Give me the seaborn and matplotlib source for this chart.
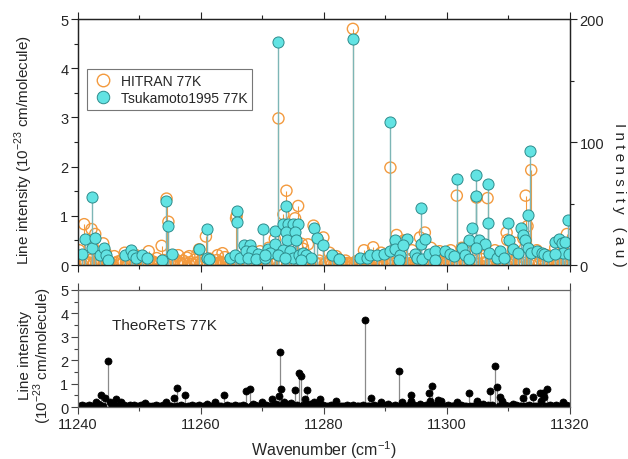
import matplotlib
matplotlib.use("Agg")
import matplotlib.pyplot as plt
from matplotlib.lines import Line2D
from matplotlib.ticker import MultipleLocator
import pandas as pd
import seaborn as sns

sns.set_theme(style="white")
plt.rcParams["font.family"] = ["Liberation Sans", "DejaVu Sans"]
plt.rcParams["mathtext.fontset"] = "custom"
plt.rcParams["mathtext.rm"] = "Liberation Sans"

# ---------------- data ----------------
# HITRAN 77K (10^-23 cm/molecule)
hitran_wn = [
    11240.2, 11241.0, 11242.2, 11242.8, 11244.1, 11253.6, 11254.4, 11254.7, 11259.7, 11259.4,
    11260.8, 11265.8, 11265.7, 11272.6, 11273.9, 11275.8, 11275.3, 11273.4, 11278.3, 11279.9,
    11272.0, 11276.4, 11276.6, 11284.7, 11290.8, 11301.6, 11296.4, 11291.8, 11295.6, 11288.0,
    11293.0, 11304.8, 11306.6, 11312.8, 11313.7, 11313.1, 11309.7, 11309.8, 11319.5, 11303.7,
    11302.4, 11312.4, 11311.1,
    11244.5, 11247.6, 11249.4, 11251.5, 11256.3, 11258.1, 11262.7, 11263.5, 11267.5, 11269.6,
    11271.0, 11277.4, 11280.9, 11282.0, 11286.5, 11289.3, 11294.3, 11297.4, 11298.8, 11300.6,
    11305.6, 11307.8, 11310.9, 11314.6, 11316.2, 11317.6, 11318.9,
    11240.3, 11240.9, 11241.6, 11242.0, 11242.6, 11243.3, 11243.8, 11244.6, 11245.2, 11245.9,
    11246.5, 11247.1, 11247.8, 11248.4, 11249.0, 11249.7, 11250.3, 11250.9, 11251.6, 11252.2,
    11252.8, 11253.3, 11254.0, 11255.0, 11255.8, 11256.5, 11257.1, 11257.7, 11258.3, 11259.0,
    11259.4, 11260.2, 11261.4, 11262.0, 11262.6, 11263.2, 11263.9, 11264.4, 11265.1, 11266.4,
    11266.9, 11267.5, 11268.4, 11269.0, 11269.6, 11270.5, 11271.3, 11271.8, 11273.0, 11274.6,
    11276.9, 11277.5, 11279.2, 11280.4, 11281.0, 11281.7, 11282.3, 11282.9, 11283.5, 11284.1,
    11285.3, 11285.9, 11286.5, 11287.1, 11287.8, 11288.4, 11289.0, 11289.5, 11290.2, 11291.2,
    11292.4, 11293.1, 11294.0, 11294.6, 11295.2, 11296.9, 11297.6, 11298.4, 11299.0, 11300.1,
    11300.9, 11302.8, 11303.2, 11304.4, 11305.7, 11306.0, 11307.3, 11307.9, 11308.3, 11309.2,
    11310.5, 11311.2, 11311.7, 11314.0, 11315.2, 11315.8, 11316.4, 11317.0, 11318.5, 11319.1,
    11319.8,
]
hitran_int = [
    0.30, 0.83, 0.73, 0.63, 0.44, 0.39, 1.35, 0.88, 0.32, 0.22,
    0.58, 1.00, 0.95, 2.98, 1.51, 1.20, 0.95, 1.03, 0.80, 0.56,
    0.53, 0.43, 0.33, 4.80, 1.98, 1.41, 0.66, 0.61, 0.56, 0.36,
    0.50, 1.37, 1.36, 1.41, 1.93, 0.79, 0.66, 0.51, 0.63, 0.47,
    0.35, 0.54, 0.45,
    0.25, 0.25, 0.20, 0.28, 0.20, 0.18, 0.20, 0.24, 0.30, 0.28,
    0.35, 0.42, 0.25, 0.18, 0.30, 0.25, 0.30, 0.35, 0.28, 0.30,
    0.40, 0.30, 0.22, 0.30, 0.20, 0.35, 0.28,
    0.06, 0.12, 0.04, 0.10, 0.05, 0.15, 0.08, 0.12, 0.05, 0.18,
    0.07, 0.10, 0.04, 0.13, 0.06, 0.09, 0.15, 0.05, 0.11, 0.07,
    0.14, 0.05, 0.10, 0.06, 0.12, 0.04, 0.09, 0.15, 0.06, 0.11,
    0.05, 0.08, 0.13, 0.05, 0.10, 0.06, 0.16, 0.04, 0.09, 0.12,
    0.05, 0.08, 0.14, 0.06, 0.10, 0.05, 0.12, 0.07, 0.10, 0.15,
    0.12, 0.06, 0.09, 0.05, 0.10, 0.04, 0.12, 0.06, 0.09, 0.03,
    0.08, 0.04, 0.11, 0.05, 0.07, 0.13, 0.05, 0.09, 0.06, 0.10,
    0.08, 0.05, 0.12, 0.06, 0.10, 0.08, 0.05, 0.12, 0.06, 0.09,
    0.05, 0.11, 0.06, 0.09, 0.12, 0.05, 0.09, 0.14, 0.06, 0.10,
    0.07, 0.12, 0.05, 0.09, 0.13, 0.05, 0.10, 0.06, 0.08, 0.05,
    0.10,
]
# HITRAN weak lines forming the dense band at the baseline
hitran_weak_wn = [
    11240.6, 11241.2, 11241.9, 11242.5, 11243.0, 11243.6, 11244.3, 11244.9, 11245.5, 11246.2,
    11246.8, 11247.4, 11248.1, 11248.7, 11249.3, 11250.0, 11250.6, 11251.2, 11251.9, 11252.5,
    11253.0, 11253.9, 11254.6, 11255.3, 11256.1, 11256.8, 11257.4, 11258.0, 11258.6, 11259.2,
    11259.9, 11260.5, 11261.1, 11261.7, 11262.3, 11262.9, 11263.5, 11264.1, 11264.7, 11265.4,
    11266.0, 11266.6, 11267.2, 11267.8, 11268.7, 11269.3, 11269.9, 11270.8, 11271.5, 11272.3,
    11273.2, 11274.3, 11275.1, 11276.1, 11277.2, 11277.8, 11278.6, 11279.5, 11280.1, 11280.7,
    11281.3, 11282.0, 11282.6, 11283.2, 11283.8, 11284.4, 11285.0, 11285.6, 11286.2, 11286.8,
    11287.4, 11288.1, 11288.7, 11289.3, 11289.9, 11290.5, 11291.0, 11291.6, 11292.1, 11292.8,
    11293.4, 11294.3, 11294.9, 11295.5, 11296.1, 11296.6, 11297.3, 11297.9, 11298.7, 11299.3,
    11299.7, 11300.4, 11301.2, 11301.9, 11302.5, 11303.0, 11303.9, 11304.6, 11305.2, 11306.3,
    11306.9, 11307.6, 11308.6, 11309.0, 11309.5, 11310.2, 11310.8, 11311.4, 11312.0, 11312.6,
    11313.3, 11313.9, 11314.3, 11314.9, 11315.5, 11316.1, 11316.7, 11317.3, 11317.9, 11318.2,
    11318.8, 11319.4,
]
hitran_weak_int = [
    0.03, 0.02, 0.05, 0.02, 0.04, 0.02, 0.05, 0.03, 0.02, 0.04,
    0.02, 0.05, 0.03, 0.02, 0.04, 0.02, 0.05, 0.03, 0.02, 0.04,
    0.02, 0.05, 0.03, 0.02, 0.04, 0.02, 0.05, 0.03, 0.02, 0.04,
    0.02, 0.05, 0.03, 0.02, 0.04, 0.02, 0.05, 0.03, 0.02, 0.04,
    0.02, 0.05, 0.03, 0.02, 0.04, 0.02, 0.05, 0.03, 0.02, 0.04,
    0.02, 0.05, 0.03, 0.02, 0.04, 0.02, 0.05, 0.03, 0.02, 0.04,
    0.02, 0.05, 0.03, 0.02, 0.04, 0.02, 0.05, 0.03, 0.02, 0.04,
    0.02, 0.05, 0.03, 0.02, 0.04, 0.02, 0.05, 0.03, 0.02, 0.04,
    0.02, 0.05, 0.03, 0.02, 0.04, 0.02, 0.05, 0.03, 0.02, 0.04,
    0.02, 0.05, 0.03, 0.02, 0.04, 0.02, 0.05, 0.03, 0.02, 0.04,
    0.02, 0.05, 0.03, 0.02, 0.04, 0.02, 0.05, 0.03, 0.02, 0.04,
    0.02, 0.05, 0.03, 0.02, 0.04, 0.02, 0.05, 0.03, 0.02, 0.04,
    0.02, 0.05,
]

# Tsukamoto1995 77K (au, right axis)
tsuk_wn = [
    11240.6, 11241.1, 11242.3, 11242.3, 11242.8, 11243.6, 11244.3, 11244.5, 11244.9, 11247.6,
    11248.7, 11249.0, 11249.4, 11250.4, 11251.3, 11253.7, 11254.3, 11254.6, 11255.3, 11259.7,
    11260.9, 11261.0, 11261.3, 11264.7, 11265.5, 11265.9, 11265.8, 11266.4, 11267.0, 11268.0,
    11267.3, 11268.3, 11267.6, 11269.2, 11268.9, 11270.1, 11270.4, 11270.9,
    11272.0, 11272.6, 11273.4, 11273.9, 11274.2, 11275.0, 11275.8, 11273.9, 11275.3, 11278.3,
    11278.8, 11279.8, 11272.0, 11274.0, 11275.5, 11273.4, 11274.4, 11271.3, 11270.4, 11272.5,
    11274.9, 11276.0, 11276.6, 11277.1, 11277.9, 11276.3, 11273.7, 11281.3, 11285.9, 11284.7,
    11282.5, 11287.0,
    11287.5, 11288.6, 11289.8, 11290.8, 11290.8, 11291.5, 11291.6, 11292.4, 11293.5, 11292.9,
    11292.2, 11294.8, 11295.2, 11295.8, 11295.7, 11296.4, 11296.0, 11297.0, 11298.0, 11298.0,
    11299.7, 11300.5, 11301.2, 11301.7,
    11304.8, 11304.8, 11306.6, 11306.6, 11304.0, 11303.6, 11305.2, 11306.2, 11302.4, 11304.7,
    11303.0, 11303.5, 11306.8, 11308.1, 11308.6, 11309.9, 11310.1, 11309.3, 11310.8, 11311.6,
    11312.0, 11312.4, 11312.7, 11313.1, 11313.5, 11313.1, 11313.6, 11314.6, 11315.4, 11315.8,
    11316.4, 11317.6, 11318.2, 11318.7, 11319.2, 11319.6, 11318.9, 11319.8, 11317.6,
]
tsuk_au = [
    9, 21, 55, 14, 22, 8, 14, 8, 4, 8,
    12, 8, 6, 8, 6, 4, 52, 32, 9, 13,
    29, 6, 5, 6, 8, 44, 35, 6, 16, 16,
    11, 11, 6, 9, 5, 29, 6, 13,
    28, 181, 33, 48, 33, 33, 33, 27, 27, 30,
    22, 16, 17, 20, 20, 12, 11, 10, 8, 8,
    6, 8, 10, 8, 6, 4, 6, 8, 6, 184,
    5, 6,
    8, 8, 9, 11, 116, 20, 13, 8, 21, 16,
    4, 9, 6, 46, 17, 21, 5, 9, 11, 4,
    11, 9, 7, 70,
    73, 56, 66, 34, 30, 20, 20, 17, 14, 14,
    8, 5, 10, 6, 11, 34, 20, 6, 13, 10,
    30, 24, 20, 41, 93, 14, 10, 11, 10, 9,
    7, 19, 21, 18, 19, 37, 10, 9, 9,
]

# TheoReTS 77K (10^-23 cm/molecule)
theo_wn = [
    11244.8, 11243.7, 11244.4, 11242.9, 11246.2, 11247.0, 11245.2, 11248.5, 11250.9, 11254.3,
    11255.6, 11256.1, 11257.4, 11262.3, 11263.7, 11267.4, 11267.9, 11269.9, 11271.5, 11272.85,
    11272.95, 11272.7, 11275.3, 11275.9, 11276.3, 11277.3, 11276.9, 11278.3, 11279.4, 11282.0,
    11284.7, 11286.7, 11287.6, 11289.3, 11290.4, 11292.2, 11292.7, 11294.1, 11294.1, 11295.6,
    11297.1, 11297.6, 11297.2, 11298.6, 11299.0, 11301.6, 11303.5, 11304.9, 11307.0, 11307.8,
    11308.1, 11308.7, 11309.0, 11310.7, 11312.3, 11312.9, 11314.0, 11315.1, 11315.6, 11316.2,
    11315.8, 11315.3, 11318.8,
    11240.2, 11240.7, 11241.3, 11241.8, 11242.4, 11243.2, 11245.8, 11246.6, 11247.5, 11248.0,
    11249.1, 11249.6, 11250.3, 11251.5, 11252.1, 11252.7, 11253.3, 11253.8, 11254.9, 11256.8,
    11257.9, 11258.5, 11259.1, 11259.7, 11260.3, 11260.9, 11261.5, 11262.9, 11264.3, 11264.9,
    11265.5, 11266.1, 11266.8, 11268.5, 11269.1, 11270.5, 11271.0, 11272.2, 11273.5, 11274.0,
    11274.6, 11275.0, 11277.8, 11278.8, 11279.9, 11280.5, 11281.1, 11281.5, 11282.6, 11283.2,
    11283.8, 11284.3, 11285.3, 11285.9, 11286.3, 11287.1, 11288.1, 11288.7, 11289.8, 11290.9,
    11291.5, 11293.3, 11293.8, 11294.7, 11296.1, 11296.6, 11298.1, 11299.6, 11300.2, 11300.8,
    11301.2, 11302.2, 11302.8, 11304.2, 11305.4, 11305.9, 11306.4, 11307.4, 11309.4, 11310.0,
    11311.3, 11311.8, 11313.3, 11314.5, 11316.7, 11317.2, 11317.8, 11318.3, 11319.3, 11319.8,
]
theo_int = [
    1.95, 0.51, 0.37, 0.20, 0.34, 0.20, 0.20, 0.09, 0.17, 0.23,
    0.38, 0.81, 0.52, 0.20, 0.51, 0.69, 0.77, 0.23, 0.34, 2.35,
    0.79, 0.48, 0.74, 1.45, 1.33, 0.72, 0.34, 0.20, 0.34, 0.24,
    0.09, 3.72, 0.37, 0.20, 0.15, 1.52, 0.23, 0.52, 0.26, 0.15,
    0.62, 0.91, 0.26, 0.31, 0.24, 0.23, 0.62, 0.27, 0.67, 1.75,
    0.86, 0.44, 0.26, 0.15, 0.38, 0.67, 0.41, 0.60, 0.62, 0.77,
    0.41, 0.24, 0.20,
    0.05, 0.08, 0.04, 0.10, 0.06, 0.12, 0.08, 0.05, 0.10, 0.04,
    0.07, 0.03, 0.09, 0.06, 0.04, 0.08, 0.05, 0.10, 0.06, 0.08,
    0.04, 0.07, 0.05, 0.09, 0.04, 0.12, 0.06, 0.05, 0.08, 0.04,
    0.10, 0.06, 0.09, 0.12, 0.06, 0.10, 0.05, 0.12, 0.20, 0.10,
    0.16, 0.08, 0.12, 0.06, 0.10, 0.05, 0.08, 0.04, 0.06, 0.03,
    0.07, 0.04, 0.06, 0.03, 0.08, 0.05, 0.07, 0.04, 0.09, 0.05,
    0.08, 0.06, 0.10, 0.07, 0.05, 0.09, 0.07, 0.05, 0.09, 0.04,
    0.06, 0.08, 0.05, 0.06, 0.08, 0.12, 0.06, 0.10, 0.08, 0.05,
    0.08, 0.04, 0.10, 0.06, 0.08, 0.05, 0.07, 0.04, 0.08, 0.05,
]
# TheoReTS weak lines forming the dense band at the baseline
theo_weak_wn = [
    11240.5, 11241.0, 11241.6, 11242.1, 11242.7, 11243.5, 11244.1, 11245.5, 11246.0, 11246.9,
    11247.8, 11248.3, 11248.9, 11249.9, 11250.6, 11251.2, 11251.8, 11252.4, 11253.0, 11253.6,
    11254.6, 11255.2, 11255.9, 11256.5, 11257.1, 11257.6, 11258.2, 11258.8, 11259.4, 11260.0,
    11260.6, 11261.2, 11261.8, 11262.6, 11263.2, 11264.0, 11264.6, 11265.2, 11265.8, 11266.4,
    11267.1, 11268.2, 11268.8, 11269.4, 11270.2, 11270.8, 11271.3, 11271.9, 11272.5, 11273.2,
    11273.8, 11274.3, 11274.8, 11275.6, 11276.6, 11277.0, 11277.6, 11278.1, 11278.5, 11279.1,
    11279.6, 11280.2, 11280.8, 11281.8, 11282.3, 11282.9, 11283.5, 11284.0, 11284.9, 11285.6,
    11286.0, 11286.9, 11287.4, 11287.9, 11288.4, 11289.0, 11289.6, 11290.1, 11290.6, 11291.2,
    11291.8, 11292.5, 11293.0, 11293.6, 11294.4, 11295.0, 11295.3, 11295.9, 11296.3, 11296.9,
    11297.9, 11298.4, 11298.9, 11299.3, 11299.9, 11300.5, 11301.0, 11301.9, 11302.5, 11303.1,
    11303.8, 11304.5, 11305.1, 11305.7, 11306.2, 11306.7, 11307.2, 11308.4, 11309.2, 11309.7,
    11310.3, 11311.0, 11311.5, 11312.1, 11312.6, 11313.0, 11313.6, 11314.2, 11314.8, 11315.9,
    11316.4, 11316.9, 11317.5, 11318.0, 11318.6, 11319.0, 11319.6,
]
theo_weak_int = [
    0.03, 0.06, 0.02, 0.05, 0.03, 0.07, 0.04, 0.05, 0.03, 0.06,
    0.02, 0.05, 0.03, 0.06, 0.02, 0.04, 0.02, 0.05, 0.03, 0.02,
    0.05, 0.03, 0.06, 0.03, 0.05, 0.02, 0.04, 0.02, 0.05, 0.02,
    0.06, 0.03, 0.05, 0.03, 0.06, 0.03, 0.05, 0.02, 0.06, 0.03,
    0.05, 0.03, 0.07, 0.04, 0.06, 0.03, 0.05, 0.08, 0.05, 0.09,
    0.06, 0.12, 0.05, 0.10, 0.08, 0.12, 0.06, 0.09, 0.04, 0.07,
    0.03, 0.06, 0.03, 0.05, 0.02, 0.04, 0.02, 0.05, 0.03, 0.05,
    0.02, 0.05, 0.03, 0.05, 0.02, 0.06, 0.03, 0.05, 0.03, 0.06,
    0.03, 0.05, 0.03, 0.06, 0.04, 0.06, 0.03, 0.05, 0.03, 0.06,
    0.04, 0.06, 0.03, 0.05, 0.03, 0.06, 0.03, 0.05, 0.03, 0.06,
    0.03, 0.05, 0.03, 0.06, 0.04, 0.07, 0.05, 0.06, 0.04, 0.06,
    0.03, 0.05, 0.03, 0.05, 0.03, 0.06, 0.04, 0.06, 0.03, 0.06,
    0.04, 0.06, 0.03, 0.05, 0.03, 0.06, 0.03,
]

xticks = [11240, 11260, 11280, 11300, 11320]
legend_labels = ["HITRAN 77K", "Tsukamoto1995 77K"]

hitran = pd.DataFrame({"wn": hitran_weak_wn + hitran_wn, "s": hitran_weak_int + hitran_int})
tsuk = pd.DataFrame({"wn": tsuk_wn, "au": tsuk_au})
theo = pd.DataFrame({"wn": theo_weak_wn + theo_wn, "s": theo_weak_int + theo_int})

# ---------------- styling ----------------
orange = "#f39a3e"
cyan_face = "#62e3e3"
cyan_edge = "#2e8c8c"
cyan_stem = "#7db6b6"
FS = 10.5

fig = plt.figure(figsize=(6.28, 4.60), dpi=100)
ax1 = fig.add_axes([0.1242, 0.4217, 0.7834, 0.5348])
ax2 = fig.add_axes([0.1242, 0.1130, 0.7834, 0.2544])
ax1r = ax1.twinx()

# top panel: HITRAN
ax1.vlines(hitran["wn"], 0, hitran["s"], color=orange, lw=0.8, zorder=1)
sns.scatterplot(data=hitran, x="wn", y="s", ax=ax1, marker="o", s=64,
                facecolor="none", edgecolor=orange, linewidth=1.0, zorder=2, legend=False)
# top panel: Tsukamoto (right axis)
ax1r.vlines(tsuk["wn"], 0, tsuk["au"], color=cyan_stem, lw=1.0, zorder=1)
sns.scatterplot(data=tsuk, x="wn", y="au", ax=ax1r, marker="o", s=64,
                color=cyan_face, edgecolor=cyan_edge, linewidth=0.7, zorder=2, legend=False)

ax1.set_xlim(11240, 11320)
ax1.set_ylim(0, 5)
ax1r.set_ylim(0, 200)
ax1.set_xticks(xticks)
ax1.xaxis.set_minor_locator(MultipleLocator(10))
ax1.yaxis.set_major_locator(MultipleLocator(1))
ax1.yaxis.set_minor_locator(MultipleLocator(0.5))
ax1r.yaxis.set_major_locator(MultipleLocator(100))
ax1r.yaxis.set_minor_locator(MultipleLocator(50))
ax1.tick_params(axis="x", which="both", bottom=True, top=True, direction="out",
                labelbottom=False, length=5, width=0.8, color="#222")
ax1.tick_params(axis="x", which="minor", length=3)
ax1.tick_params(axis="y", which="both", left=True, direction="out", length=5,
                width=0.8, labelsize=FS, color="#222", pad=2)
ax1.tick_params(axis="y", which="minor", length=3)
ax1r.tick_params(axis="y", which="both", right=True, direction="out", length=5,
                 width=0.8, labelsize=FS, color="#222", pad=2)
ax1r.tick_params(axis="y", which="minor", length=3)
for sp in list(ax1.spines.values()) + list(ax1r.spines.values()):
    sp.set_color("#222")
    sp.set_linewidth(0.9)
ax1.set_xlabel("")
ax1.set_ylabel("Line intensity (10$^{-23}$ cm/molecule)", fontsize=11)
ax1.yaxis.set_label_coords(-0.088, 0.47)
ax1r.set_ylabel("I n t e n s i t y   ( a u )", fontsize=11, rotation=270, va="center")
ax1r.yaxis.set_label_coords(1.10, 0.29)

handles = [
    Line2D([], [], ls="none", marker="o", ms=9, mfc="none", mec=orange, mew=1.0),
    Line2D([], [], ls="none", marker="o", ms=9, mfc=cyan_face, mec=cyan_edge, mew=0.7),
]
leg = ax1r.legend(handles, legend_labels, loc="upper left", bbox_to_anchor=(0.018, 0.797),
                  borderaxespad=0, frameon=True, fancybox=False, fontsize=10,
                  handletextpad=0.5, borderpad=0.35, labelspacing=0.25, handlelength=1.6)
leg.get_frame().set_edgecolor("#555")
leg.get_frame().set_linewidth(0.8)

# bottom panel: TheoReTS
ax2.vlines(theo["wn"], 0, theo["s"], color="#8a8a8a", lw=0.9, zorder=1)
sns.scatterplot(data=theo, x="wn", y="s", ax=ax2, marker="o", s=26,
                color="black", edgecolor="black", linewidth=0.5, zorder=2, legend=False)
ax2.set_xlim(11240, 11320)
ax2.set_ylim(0, 5)
ax2.set_xticks(xticks)
ax2.set_xticklabels([str(t) for t in xticks])
ax2.xaxis.set_minor_locator(MultipleLocator(10))
ax2.yaxis.set_major_locator(MultipleLocator(1))
ax2.yaxis.set_minor_locator(MultipleLocator(0.5))
ax2.tick_params(axis="x", which="both", bottom=True, direction="out", length=5,
                width=0.8, labelsize=FS, color="#444", pad=2)
ax2.tick_params(axis="x", which="minor", length=3)
ax2.tick_params(axis="y", which="both", left=True, direction="out", length=5,
                width=0.8, labelsize=FS, color="#444", pad=2)
ax2.tick_params(axis="y", which="minor", length=3)
ax2.tick_params(axis="x", which="both", top=True, labeltop=False)
for sp in ax2.spines.values():
    sp.set_color("#666")
    sp.set_linewidth(0.9)
ax2.set_xlabel("Wavenumber (cm$^{-1}$)", fontsize=11.5)
ax2.xaxis.set_label_coords(0.5, -0.27)
ax2.set_ylabel("Line intensity\n(10$^{-23}$ cm/molecule)", fontsize=11, linespacing=1.0)
ax2.yaxis.set_label_coords(-0.048, 0.45)
ax2.text(11245.5, 3.5, "TheoReTS 77K", fontsize=11, va="center", ha="left")

fig.savefig("out.png", dpi=100)
